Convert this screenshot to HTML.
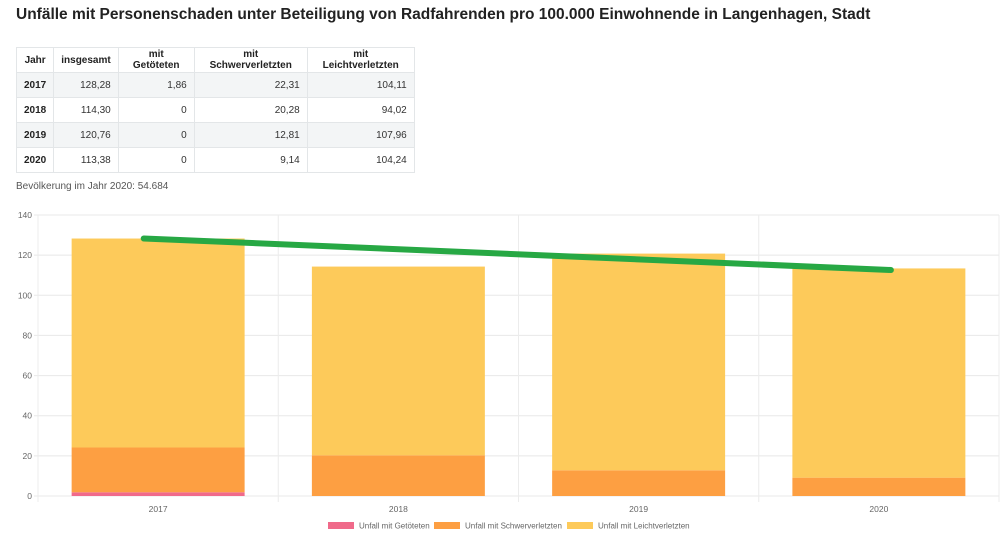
<!DOCTYPE html>
<html><head><meta charset="utf-8"><style>
body{margin:0;width:1000px;height:543px;background:#fff;font-family:"Liberation Sans",sans-serif;position:relative;overflow:hidden}
h1{position:absolute;left:16px;top:6px;margin:0;font-size:15.5px;font-weight:bold;color:#222}
table{position:absolute;left:16px;top:47px;border-collapse:collapse;font-size:10px;color:#333}
td,th{border:1px solid #e3e6e8;height:24px;padding:0 7px;text-align:right}
th{font-weight:bold;text-align:center;color:#222}
td:first-child{font-weight:bold;text-align:center;color:#222}
tr.g td{background:#f3f5f6}
.pop{position:absolute;left:16px;top:181px;font-size:10px;color:#555}
svg{position:absolute;left:0;top:0}
</style></head><body>
<h1>Unfälle mit Personenschaden unter Beteiligung von Radfahrenden pro 100.000 Einwohnende in Langenhagen, Stadt</h1>
<table>
<tr><th style="width:22px">Jahr</th><th style="width:46px">insgesamt</th><th style="width:61px">mit Getöteten</th><th style="width:98px">mit Schwerverletzten</th><th style="width:92px">mit Leichtverletzten</th></tr>
<tr class="g"><td>2017</td><td>128,28</td><td>1,86</td><td>22,31</td><td>104,11</td></tr>
<tr><td>2018</td><td>114,30</td><td>0</td><td>20,28</td><td>94,02</td></tr>
<tr class="g"><td>2019</td><td>120,76</td><td>0</td><td>12,81</td><td>107,96</td></tr>
<tr><td>2020</td><td>113,38</td><td>0</td><td>9,14</td><td>104,24</td></tr>
</table>
<div class="pop">Bevölkerung im Jahr 2020: 54.684</div>
<svg id="c" width="1000" height="543"></svg>
<script>
const categories=["2017","2018","2019","2020"];
const killed=[1.86,0,0,0];
const severe=[22.31,20.28,12.81,9.14];
const light=[104.11,94.02,107.96,104.24];
const yTicks=[0,20,40,60,80,100,120,140];
const trendStart=128.3, trendEnd=112.6;
const seriesNames=["Unfall mit Getöteten","Unfall mit Schwerverletzten","Unfall mit Leichtverletzten"];
const colors=["#f06a8a","#fd9f42","#fdca5a"];
const svg=document.getElementById('c');const NS="http://www.w3.org/2000/svg";
const L=38,R=999,T=215,B=496,yMax=140;
const y=v=>B-(v/yMax)*(B-T);
const band=(R-L)/categories.length;
const x=i=>L+band*i;
function mk(t,a,p){const e=document.createElementNS(NS,t);for(const k in a)e.setAttribute(k,a[k]);(p||svg).appendChild(e);return e;}
yTicks.forEach(v=>{
 const g=mk('line',{x1:L-4,x2:R,y1:y(v),y2:y(v),stroke:'#e8e8e8'});
 
 
 const t=mk('text',{x:L-6,y:y(v)+3,'text-anchor':'end','font-size':'8.5','fill':'#666'});t.textContent=v;
 
 
});
for(let i=0;i<=categories.length;i++){
 const g=mk('line',{x1:x(i),x2:x(i),y1:T,y2:B+6,stroke:'#ececec'});
 
 
}
const bw=band*0.72;
categories.forEach((c,i)=>{
 const x0=x(i)+(band-bw)/2;let base=0;
 [killed,severe,light].forEach((s,k)=>{
  const v=s[i];
  const r=mk('rect',{x:x0,y:y(base+v),width:bw,height:y(base)-y(base+v),fill:colors[k]});
  
  
  base+=v;
 });
 const t=mk('text',{x:x(i)+band/2,y:B+16,'text-anchor':'middle','font-size':'8.5','fill':'#666'});t.textContent=c;
 
 
});
const tl=mk('line',{x1:x(0)+band*0.44,y1:y(trendStart),x2:x(3)+band*0.55,y2:y(trendEnd),stroke:'#27a844','stroke-width':'6','stroke-linecap':'round'});


const lx=[328,434,567];
seriesNames.forEach((n,k)=>{
 const r=mk('rect',{x:lx[k],y:522,width:26,height:7,fill:colors[k]});
 
 
 const t=mk('text',{x:lx[k]+31,y:528.5,'font-size':'8','fill':'#666'});t.textContent=n;
 
 
});
</script>
</body></html>
